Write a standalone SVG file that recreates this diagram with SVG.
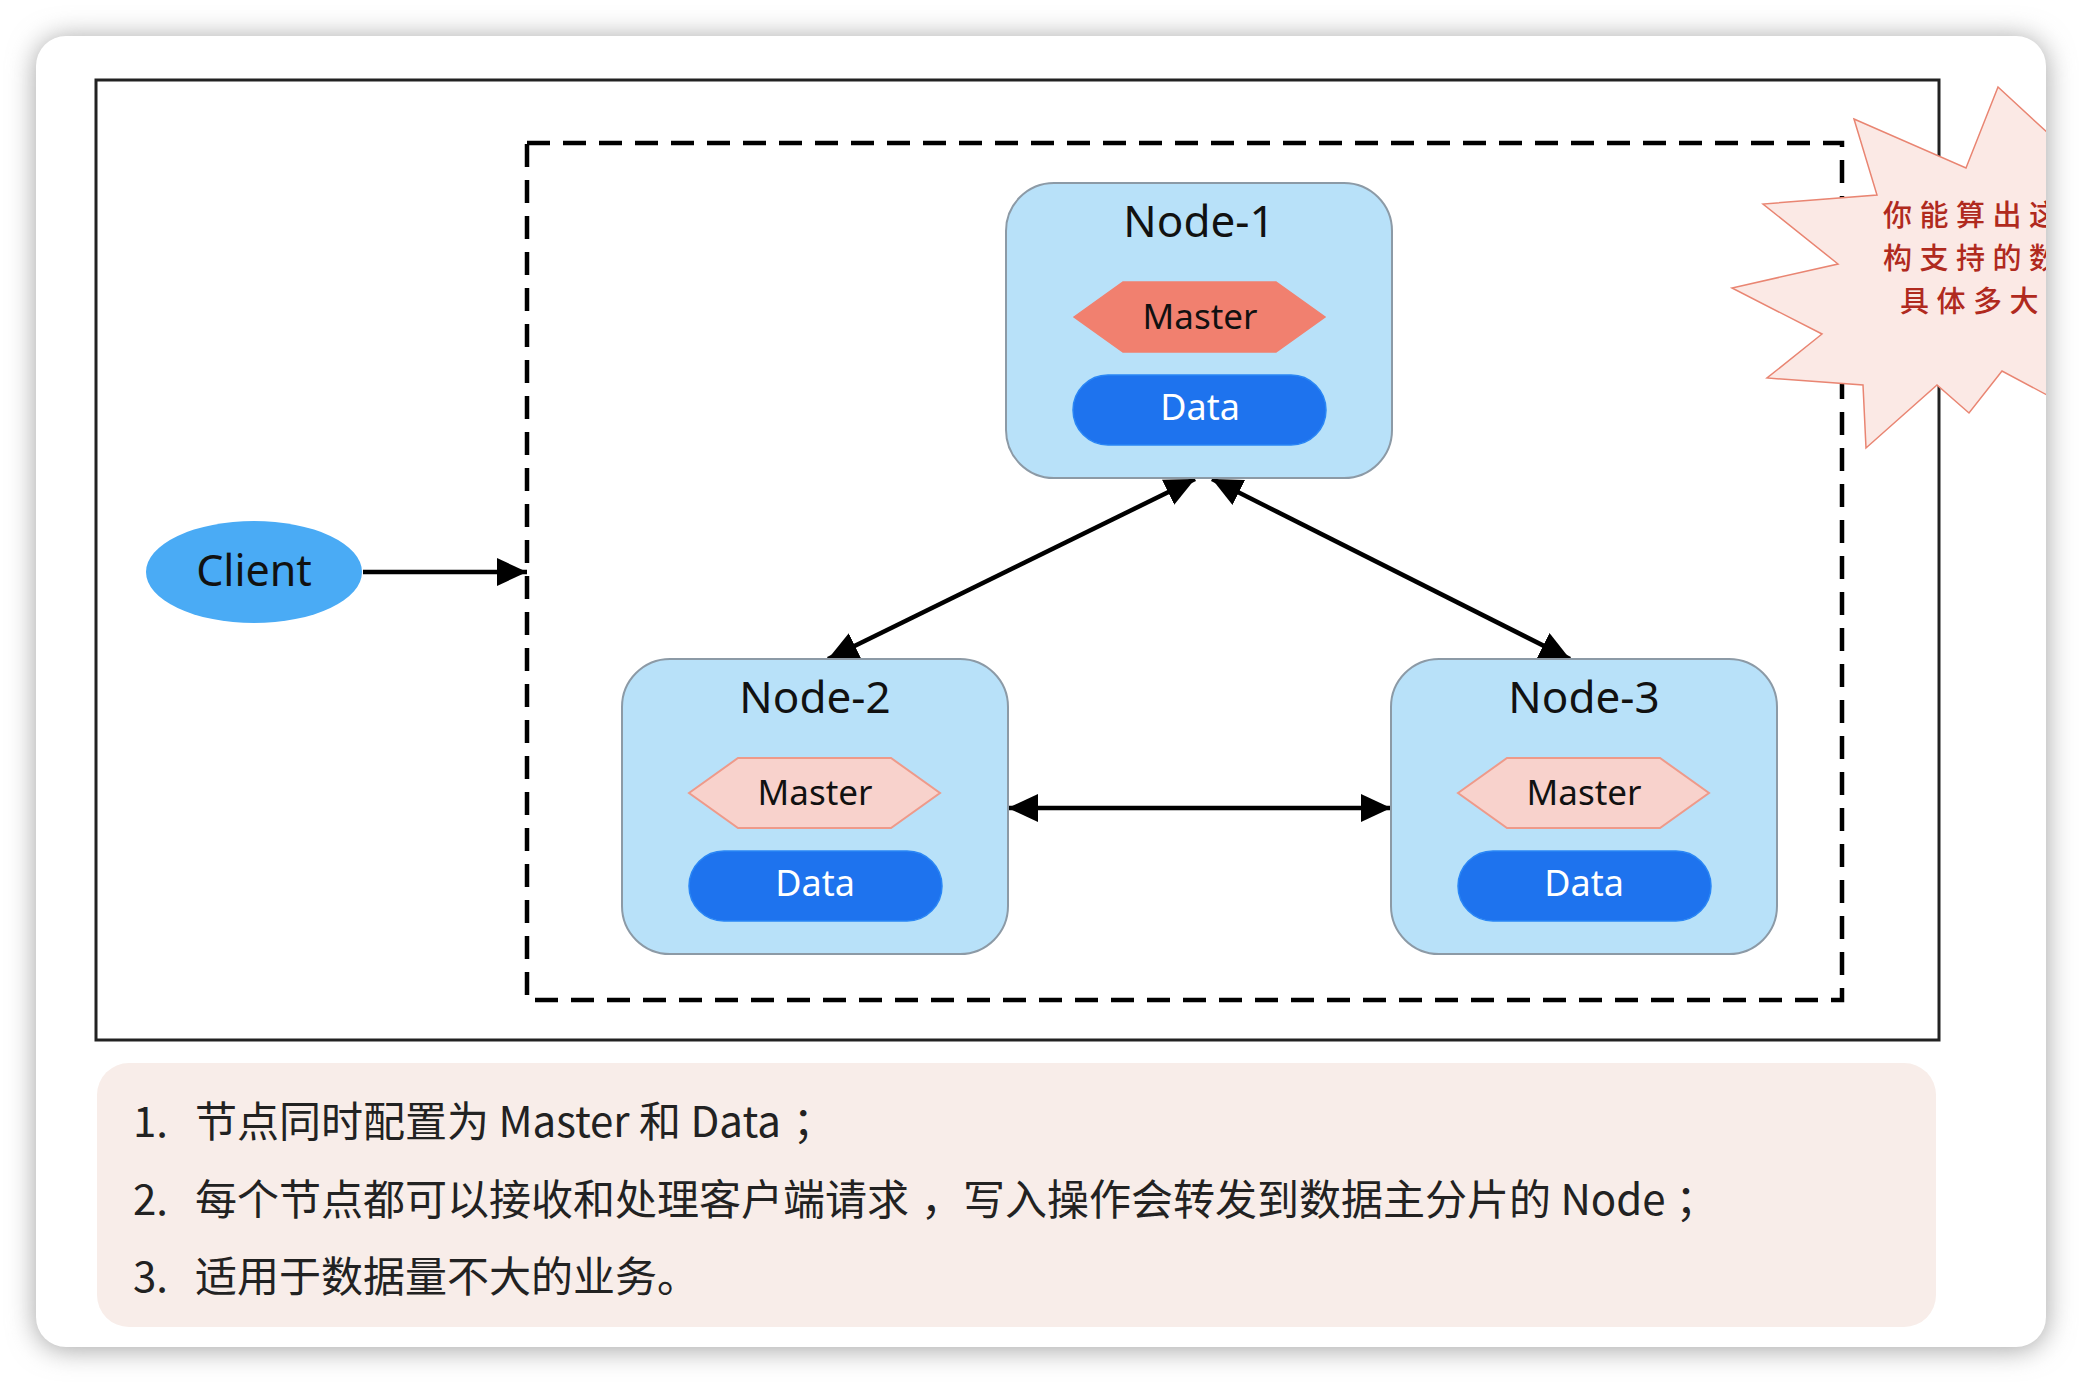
<svg xmlns="http://www.w3.org/2000/svg" width="2082" height="1384" viewBox="0 0 2082 1384">
<defs>
<style>
.node{fill:#b8e1f9;stroke:#8c9aa6;stroke-width:2}
.title{font-family:"Noto Sans","Open Sans",sans-serif;font-size:44px;fill:#111;text-anchor:middle}
.m1{fill:#f1806f;stroke:#f1806f;stroke-width:1.5}
.m2{fill:#f8d2cc;stroke:#ee9a8a;stroke-width:2}
.mt{font-family:"Noto Sans","Open Sans",sans-serif;font-size:35px;fill:#111;text-anchor:middle}
.data{fill:#1e73ee;stroke:#2a86f5;stroke-width:1.5}
.dt{font-family:"Noto Sans","Open Sans",sans-serif;font-size:36px;fill:#fff;text-anchor:middle}
.conn{stroke:#000;stroke-width:4.5;fill:none}
.note{font-family:"Noto Sans CJK SC","Noto Sans",sans-serif;font-size:42px;fill:#222}
.burst{font-family:"Noto Sans CJK SC",sans-serif;font-size:29px;font-weight:500;fill:#b02a1e;letter-spacing:7.5px}
</style>
<marker id="ah" markerUnits="userSpaceOnUse" markerWidth="32" markerHeight="30" refX="30" refY="14" orient="auto-start-reverse" viewBox="0 0 32 30">
<path d="M0,0 L30,14 L0,28 z" fill="#000"/>
</marker>
<filter id="sh" x="-5%" y="-5%" width="110%" height="110%">
<feGaussianBlur stdDeviation="14"/>
</filter>
<clipPath id="card"><rect x="36" y="36" width="2010" height="1311" rx="30"/></clipPath>
</defs>
<rect x="0" y="0" width="2082" height="1384" fill="#ffffff"/>
<rect x="36" y="38" width="2010" height="1311" rx="30" fill="#a0a0a0" filter="url(#sh)"/>
<rect x="36" y="36" width="2010" height="1311" rx="30" fill="#ffffff"/>

<g id="frame">
<rect x="96" y="80" width="1843" height="960" fill="#fff" stroke="#222" stroke-width="3"/>
<rect x="527" y="143" width="1315" height="857" fill="none" stroke="#000" stroke-width="4.5" stroke-dasharray="23 13"/>
</g>

<g id="connectors">
<line class="conn" x1="363" y1="572" x2="527" y2="572" marker-end="url(#ah)"/>
<line class="conn" x1="1195" y1="479" x2="828" y2="659" marker-start="url(#ah)" marker-end="url(#ah)"/>
<line class="conn" x1="1212" y1="479" x2="1570" y2="659" marker-start="url(#ah)" marker-end="url(#ah)"/>
<line class="conn" x1="1008" y1="808" x2="1391" y2="808" marker-start="url(#ah)" marker-end="url(#ah)"/>
</g>

<g id="client">
<ellipse cx="254" cy="572" rx="108" ry="51" fill="#4aabf5"/>
<text x="254" y="586" class="title" style="font-size:43px">Client</text>
</g>

<g id="node-1">
<rect class="node" x="1006" y="183" width="386" height="295" rx="48"/>
<text class="title" x="1199" y="237">Node-1</text>
<polygon class="m1" points="1074,317 1123,282 1276,282 1325,317 1276,352 1123,352"/>
<text class="mt" x="1200" y="329">Master</text>
<rect class="data" x="1073" y="375" width="253" height="70" rx="35"/>
<text class="dt" x="1200" y="420">Data</text>
</g>

<g id="node-2">
<rect class="node" x="622" y="659" width="386" height="295" rx="48"/>
<text class="title" x="815" y="713">Node-2</text>
<polygon class="m2" points="689,793 738,758 891,758 940,793 891,828 738,828"/>
<text class="mt" x="815" y="805">Master</text>
<rect class="data" x="689" y="851" width="253" height="70" rx="35"/>
<text class="dt" x="815" y="896">Data</text>
</g>

<g id="node-3">
<rect class="node" x="1391" y="659" width="386" height="295" rx="48"/>
<text class="title" x="1584" y="713">Node-3</text>
<polygon class="m2" points="1458,793 1507,758 1660,758 1709,793 1660,828 1507,828"/>
<text class="mt" x="1584" y="805">Master</text>
<rect class="data" x="1458" y="851" width="253" height="70" rx="35"/>
<text class="dt" x="1584" y="896">Data</text>
</g>

<g id="callout" clip-path="url(#card)">
<polygon points="1854,119 1966,168 1998,87 2090,172 2090,418 2002,371 1969,413 1937,385 1866,448 1863,385 1767,378 1822,334 1732,288 1838,264 1763,204 1877,195" fill="#fbe9e5" stroke="#e98572" stroke-width="1.5"/>
<text class="burst" x="1883" y="226">你能算出这</text>
<text class="burst" x="1883" y="269">构支持的数</text>
<text class="burst" x="1900" y="312">具体多大</text>
</g>

<g id="notes">
<rect x="97" y="1063" width="1839" height="264" rx="32" fill="#f8ede9"/>
<text class="note" x="133" y="1137">1.</text>
<text class="note" x="195" y="1137">节点同时配置为 Master 和 Data<tspan dx="12">；</tspan></text>
<text class="note" x="133" y="1215">2.</text>
<text class="note" x="195" y="1215">每个节点都可以接收和处理客户端请求<tspan dx="12">，写入操作会转发到数据主分片的 Node</tspan><tspan dx="10">；</tspan></text>
<text class="note" x="133" y="1292">3.</text>
<text class="note" x="195" y="1292">适用于数据量不大的业务。</text>
</g>
</svg>
